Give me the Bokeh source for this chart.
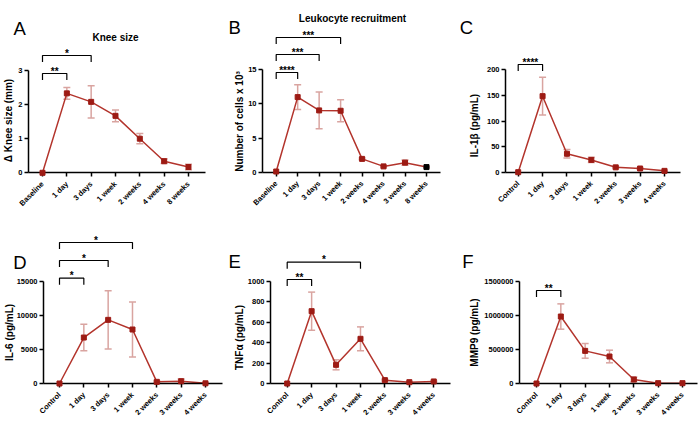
import numpy as np
from bokeh.plotting import figure
from bokeh.layouts import row, column
from bokeh.models import (Range1d, FixedTicker, Whisker, TeeHead, ColumnDataSource,
                          Label, BasicTickFormatter)
from bokeh.embed import file_html
from bokeh.resources import INLINE
from bokeh.core.properties import value

# ---------------- data ----------------
A_cats = ["Baseline", "1 day", "3 days", "1 week", "2 weeks", "4 weeks", "8 weeks"]
A_mean = [0.0, 2.33, 2.08, 1.67, 1.00, 0.34, 0.17]
A_err = [0.0, 0.17, 0.47, 0.17, 0.15, 0.07, 0.08]
A_yticks = [0, 1, 2, 3]
A_sig = [(0, 1, "**"), (0, 2, "*")]

B_cats = ["Baseline", "1 day", "3 days", "1 week", "2 weeks", "4 weeks", "3 weeks", "8 weeks"]
B_mean = [0.1, 11.0, 9.05, 9.0, 1.95, 0.85, 1.4, 0.75]
B_err = [0.0, 1.8, 2.7, 1.6, 0.12, 0.1, 0.4, 0.08]
B_yticks = [0, 5, 10, 15]
B_sig = [(0, 1, "****"), (0, 2, "***"), (0, 3, "***")]

C_cats = ["Control", "1 day", "3 days", "1 week", "2 weeks", "3 weeks", "4 weeks"]
C_mean = [0.0, 148.5, 36.0, 24.0, 9.5, 7.2, 2.6]
C_err = [0.0, 37.0, 8.5, 5.0, 1.5, 1.5, 1.0]
C_yticks = [0, 50, 100, 150, 200]
C_sig = [(0, 1, "****")]

D_cats = ["Control", "1 day", "3 days", "1 week", "2 weeks", "3 weeks", "4 weeks"]
D_mean = [0, 6760, 9360, 7940, 245, 340, 30]
D_err = [0, 1960, 4290, 4040, 120, 340, 30]
D_yticks = [0, 5000, 10000, 15000]
D_sig = [(0, 1, "*"), (0, 2, "*"), (0, 3, "*")]

E_cats = ["Control", "1 day", "3 days", "1 week", "2 weeks", "3 weeks", "4 weeks"]
E_mean = [0, 709, 183, 438, 33, 13, 20]
E_err = [0, 187, 49, 117, 8, 5, 5]
E_yticks = [0, 200, 400, 600, 800, 1000]
E_sig = [(0, 1, "**"), (0, 3, "*")]

F_cats = ["Control", "1 day", "3 days", "1 week", "2 weeks", "3 weeks", "4 weeks"]
F_mean = [0, 985000, 480000, 397000, 59000, 5000, 5000]
F_err = [0, 186000, 108000, 93000, 37000, 0, 0]
F_yticks = [0, 500000, 1000000, 1500000]
F_sig = [(0, 1, "**")]

# ---------------- style / layout (pixel positions on the page) ----------------
FONT = "Liberation Sans"
LINE = "#b3342c"
MARK = "#9d1b14"
ERR = "#d9a4a0"

LAYOUT = {
    "A": dict(fig=(0, 0, 228, 213), FL=28, FR=205, C0=42, s=24.33, Y0=172.3, Yt=70,
              sig=[73, 55], letter=(13, 28.3), title=(115, 37.3), ylab=(8, 120)),
    "B": dict(fig=(228, 0, 227, 213), FL=262, FR=440, C0=275.7, s=21.47, Y0=171.7, Yt=69.3,
              sig=[72, 54, 37], letter=(228, 26.7), title=(352, 18.3), ylab=(238.5, 121)),
    "C": dict(fig=(455, 0, 245, 213), FL=505, FR=680, C0=517.7, s=24.38, Y0=171.7, Yt=69.3,
              sig=[64], letter=(459.3, 27.3), title=None, ylab=(473.5, 125)),
    "D": dict(fig=(0, 213, 228, 212), FL=43, FR=221.7, C0=59, s=24.33, Y0=383, Yt=281,
              sig=[277.7, 260, 242], letter=(12.7, 261.7), title=None, ylab=(8.5, 332)),
    "E": dict(fig=(228, 213, 227, 212), FL=270, FR=450, C0=286.7, s=24.43, Y0=383, Yt=281,
              sig=[279, 261.7], letter=(228, 261), title=None, ylab=(238.5, 337)),
    "F": dict(fig=(455, 213, 245, 212), FL=519, FR=697, C0=536, s=24.33, Y0=383, Yt=281,
              sig=[290], letter=(461.7, 261), title=None, ylab=(474, 332)),
}


def make_panel(key, cats, mean, err, yticks, ylabel, sig, title=None, mark_colors=None):
    cfg = LAYOUT[key]
    fx0, fy0, fw, fh = cfg["fig"]
    FL, FR, C0, s = cfg["FL"], cfg["FR"], cfg["C0"], cfg["s"]
    Y0, Yt = cfg["Y0"], cfg["Yt"]
    tmax = yticks[-1]
    upp = tmax / (Y0 - Yt)

    def X(px):
        return (px - C0) / s

    def Y(py):
        return (Y0 - py) * upp

    p = figure(width=fw, height=fh,
               x_range=Range1d(X(fx0), X(fx0 + fw)), y_range=Range1d(Y(fy0 + fh), Y(fy0)),
               output_backend="svg", toolbar_location=None, title=None,
               min_border_left=0, min_border_right=0, min_border_top=0, min_border_bottom=0)
    p.outline_line_color = None
    p.grid.visible = False

    xs = list(range(len(cats)))
    if mark_colors is None:
        mark_colors = [MARK] * len(cats)
    src = ColumnDataSource(dict(x=xs, y=mean, c=mark_colors))
    ex = [x for x, e in zip(xs, err) if e > 0]
    elo = [m - e for m, e in zip(mean, err) if e > 0]
    ehi = [m + e for m, e in zip(mean, err) if e > 0]
    esrc = ColumnDataSource(dict(x=ex, lo=elo, hi=ehi))
    w = Whisker(base="x", upper="hi", lower="lo", source=esrc, dimension="height",
                line_color=ERR, line_width=1.5,
                upper_head=TeeHead(size=7, line_color=ERR, line_width=1.5),
                lower_head=TeeHead(size=7, line_color=ERR, line_width=1.5))
    p.add_layout(w)
    p.line("x", "y", source=src, line_color=LINE, line_width=1.5)
    p.scatter("x", "y", source=src, marker="square", size=5, fill_color="c",
              line_color="c", level="overlay")

    # axes fixed inside the frame
    p.xaxis.fixed_location = 0
    p.xaxis.bounds = (X(FL), X(FR))
    p.xaxis.ticker = FixedTicker(ticks=xs)
    p.xaxis.major_label_overrides = {i: c for i, c in enumerate(cats)}
    p.xaxis.major_label_orientation = np.pi / 4
    p.xaxis.major_label_standoff = 6
    p.yaxis.fixed_location = X(FL)
    p.yaxis.ticker = FixedTicker(ticks=yticks)
    p.yaxis.formatter = BasicTickFormatter(use_scientific=False)
    p.yaxis.bounds = (0, tmax)
    p.yaxis.major_label_standoff = 2
    for ax in p.axis:
        ax.axis_line_width = 1.5
        ax.axis_line_color = "black"
        ax.major_tick_line_width = 1.5
        ax.major_tick_line_color = "black"
        ax.major_tick_out = 4
        ax.major_tick_in = 0
        ax.minor_tick_line_color = None
        ax.major_label_text_font = FONT
        ax.major_label_text_font_style = "bold"
        ax.major_label_text_font_size = "7.5px"
        ax.major_label_text_color = "black"

    # y-axis title
    lx, ly = cfg["ylab"]
    p.add_layout(Label(x=X(lx), y=Y(ly), text=ylabel, angle=np.pi / 2,
                       text_font=FONT, text_font_size="10px", text_font_style="bold",
                       text_align="center", text_baseline="middle", text_color="black"))

    # significance brackets
    bxs, bys, tx, ty, tt = [], [], [], [], []
    d = 6.5 * upp
    for (a, b, stars), ypx in zip(sig, cfg["sig"]):
        yb = Y(ypx)
        bxs.append([a, a, b, b])
        bys.append([yb - d, yb, yb, yb - d])
        tx.append((a + b) / 2)
        ty.append(yb + 2.5 * upp)
        tt.append(stars)
    p.multi_line(bxs, bys, line_color="black", line_width=1.2)
    p.text(x=tx, y=ty, text=tt, text_font=value(FONT), text_font_style="bold",
           text_font_size="10px", text_align="center", text_baseline="alphabetic",
           text_color="black")

    # panel letter and title
    lx, lby = cfg["letter"]
    p.add_layout(Label(x=X(lx), y=Y(lby), text=key,
                       text_font=FONT, text_font_size="18.5px", text_align="left",
                       text_baseline="alphabetic", text_color="black"))
    if title is not None:
        cx, cby = cfg["title"]
        p.add_layout(Label(x=X(cx), y=Y(cby), text=title,
                           text_font=FONT, text_font_size="10px", text_font_style="bold",
                           text_align="center", text_baseline="alphabetic", text_color="black"))
    return p


pA = make_panel("A", A_cats, A_mean, A_err, A_yticks, "Δ Knee size (mm)", A_sig, title="Knee size")
pB = make_panel("B", B_cats, B_mean, B_err, B_yticks, "Number of cells x 10³", B_sig,
                title="Leukocyte recruitment", mark_colors=[MARK] * 7 + ["black"])
pC = make_panel("C", C_cats, C_mean, C_err, C_yticks, "IL-1β (pg/mL)", C_sig)
pD = make_panel("D", D_cats, D_mean, D_err, D_yticks, "IL-6 (pg/mL)", D_sig)
pE = make_panel("E", E_cats, E_mean, E_err, E_yticks, "TNFα (pg/mL)", E_sig)
pF = make_panel("F", F_cats, F_mean, F_err, F_yticks, "MMP9 (pg/mL)", F_sig)

layout = column(row(pA, pB, pC), row(pD, pE, pF))
open("out.html", "w").write(file_html(layout, INLINE))
